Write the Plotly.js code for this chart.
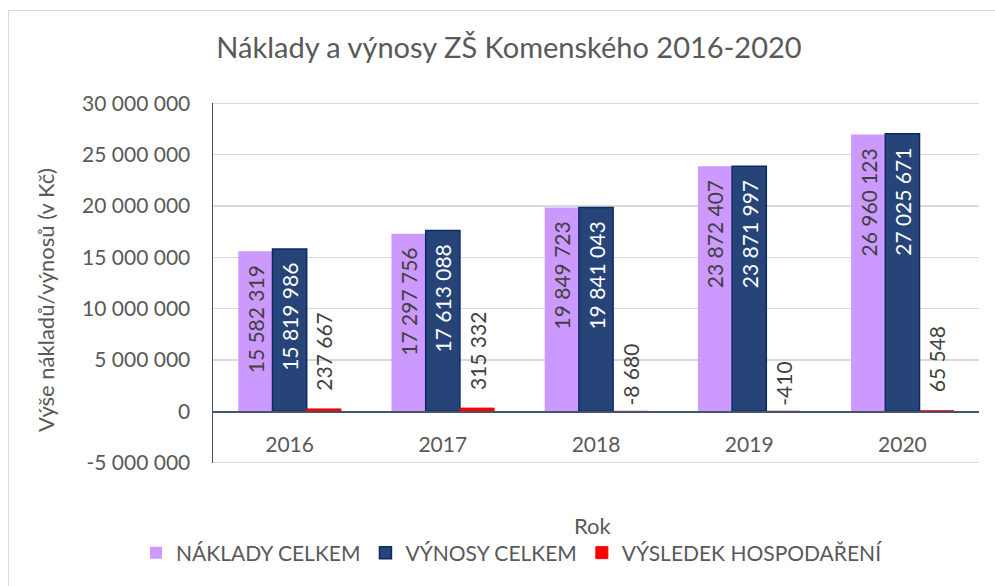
<!DOCTYPE html>
<html>
<head>
<meta charset="utf-8">
<script src="https://cdn.plot.ly/plotly-3.0.1.min.js"></script>
<style>
  html, body { margin: 0; padding: 0; background: #fff; }
  #wrap { position: relative; width: 995px; height: 586px; overflow: hidden; }
  #chart { width: 995px; height: 586px; }
  #frame { position: absolute; left: 8px; top: 10px; width: 1100px; height: 700px;
           border-left: 1.5px solid #D9D9D9; border-top: 1.5px solid #D9D9D9; pointer-events: none; }
</style>
</head>
<body>
<div id="wrap">
  <div id="chart"></div>
  <div id="frame"></div>
</div>
<script>
const years = ['2016', '2017', '2018', '2019', '2020'];
const naklady = [15582319, 17297756, 19849723, 23872407, 26960123];
const vynosy = [15819986, 17613088, 19841043, 23871997, 27025671];
const vysledek = [237667, 315332, -8680, -410, 65548];
const seriesNames = ['NÁKLADY CELKEM', 'VÝNOSY CELKEM', 'VÝSLEDEK HOSPODAŘENÍ'];
const yTickVals = [-5000000, 0, 5000000, 10000000, 15000000, 20000000, 25000000, 30000000];
const yTickText = ['-5 000 000', '0', '5 000 000', '10 000 000', '15 000 000', '20 000 000', '25 000 000', '30 000 000'];
const yRange = [-5030000, 30030000];

function fmt(v) {
  const s = String(Math.abs(v)).replace(/\B(?=(\d{3})+(?!\d))/g, ' ');
  return (v < 0 ? '-' : '') + s;
}

const FONT = 'Lato, "Noto Sans", sans-serif';
const GREY = '#595959';
const GRID = '#D9D9D9';
const LBL = 21;
const pad = '\u00A0\u00A0';

const traces = [
  {
    type: 'bar', name: seriesNames[0], x: years, y: naklady,
    marker: { color: '#CC99FF' },
    text: naklady.map(v => fmt(v) + pad), textposition: 'inside', insidetextanchor: 'end',
    textangle: -90, insidetextfont: { family: FONT, size: LBL, color: '#404040' },
    hoverinfo: 'x+y'
  },
  {
    type: 'bar', name: seriesNames[1], x: years, y: vynosy,
    marker: { color: '#264478', line: { color: '#0B2A66', width: 1.5 } },
    text: vynosy.map(v => fmt(v) + pad), textposition: 'inside', insidetextanchor: 'end',
    textangle: -90, insidetextfont: { family: FONT, size: LBL, color: '#FFFFFF' },
    hoverinfo: 'x+y'
  },
  {
    type: 'bar', name: seriesNames[2], x: years, y: vysledek,
    marker: { color: '#FF0000', line: { color: '#FF0000', width: 1 } },
    textposition: 'none', hoverinfo: 'x+y'
  }
];

const L = 213, R = 16, T = 103, B = 123, W = 995, H = 586;
const plotW = W - L - R, plotH = H - T - B;
const bargap = 0.33;
const barOffset = (1 - bargap) / 3; // in category units

const annotations = vysledek.map((v, i) => ({
  x: i + barOffset, y: Math.max(v, 0), xref: 'x', yref: 'y',
  text: fmt(v), textangle: -90, showarrow: false,
  xanchor: 'center', yanchor: 'bottom',
  yshift: v >= 0 ? 16 : 4,
  font: { family: FONT, size: LBL, color: '#404040' }
}));

annotations.push({
  text: 'Výše nákladů/výnosů (v Kč)', textangle: -90, showarrow: false,
  xref: 'paper', yref: 'paper', x: (45 - L) / plotW, y: (H - B - 300) / plotH,
  xanchor: 'center', yanchor: 'middle',
  font: { family: FONT, size: 22, color: GREY }
});
annotations.push({
  text: 'Rok', showarrow: false,
  xref: 'paper', yref: 'paper', x: (593 - L) / plotW, y: (H - B - 525) / plotH,
  xanchor: 'center', yanchor: 'middle',
  font: { family: FONT, size: 22, color: GREY }
});

// gridlines at the outer ticks (drawn explicitly so the edge ones are not dropped)
const shapes = [yTickVals[0], yTickVals[yTickVals.length - 1]].map(v => ({
  type: 'line', xref: 'paper', yref: 'y', x0: 0, x1: 1, y0: v, y1: v,
  line: { color: GRID, width: 1.3 }, layer: 'below'
}));

const layout = {
  width: W, height: H,
  margin: { l: L, r: R, t: T, b: B, pad: 0 },
  paper_bgcolor: '#FFFFFF', plot_bgcolor: '#FFFFFF',
  font: { family: FONT, color: GREY },
  title: {
    text: 'Náklady a výnosy ZŠ Komenského 2016-2020',
    font: { family: FONT, size: 29, color: GREY },
    xref: 'container', yref: 'container', x: 509 / W, y: 1 - 48 / H,
    xanchor: 'center', yanchor: 'middle'
  },
  barmode: 'group', bargap: bargap, bargroupgap: 0,
  showlegend: true,
  legend: {
    orientation: 'h', xref: 'paper', yref: 'paper',
    x: (512 - L) / plotW, y: (H - B - 553) / plotH, xanchor: 'center', yanchor: 'middle',
    font: { family: FONT, size: 21, color: GREY }, traceorder: 'normal'
  },
  xaxis: {
    type: 'category', anchor: 'free', range: [-0.5, years.length - 0.5],
    position: (0 - yRange[0]) / (yRange[1] - yRange[0]),
    showline: true, linecolor: '#44546A', linewidth: 1.5,
    showgrid: false, ticks: '', ticklabelstandoff: 14,
    tickfont: { family: FONT, size: 21, color: GREY },
    fixedrange: true
  },
  yaxis: {
    range: yRange, tickvals: yTickVals, ticktext: yTickText,
    showline: true, linecolor: '#44546A', linewidth: 1.5,
    showgrid: true, gridcolor: GRID, gridwidth: 1.3,
    zeroline: false, ticks: '', ticklabelstandoff: 17,
    tickfont: { family: FONT, size: 21, color: GREY },
    fixedrange: true
  },
  shapes: shapes,
  annotations: annotations
};

Plotly.newPlot('chart', traces, layout, { displayModeBar: false, staticPlot: true });
</script>
</body>
</html>
